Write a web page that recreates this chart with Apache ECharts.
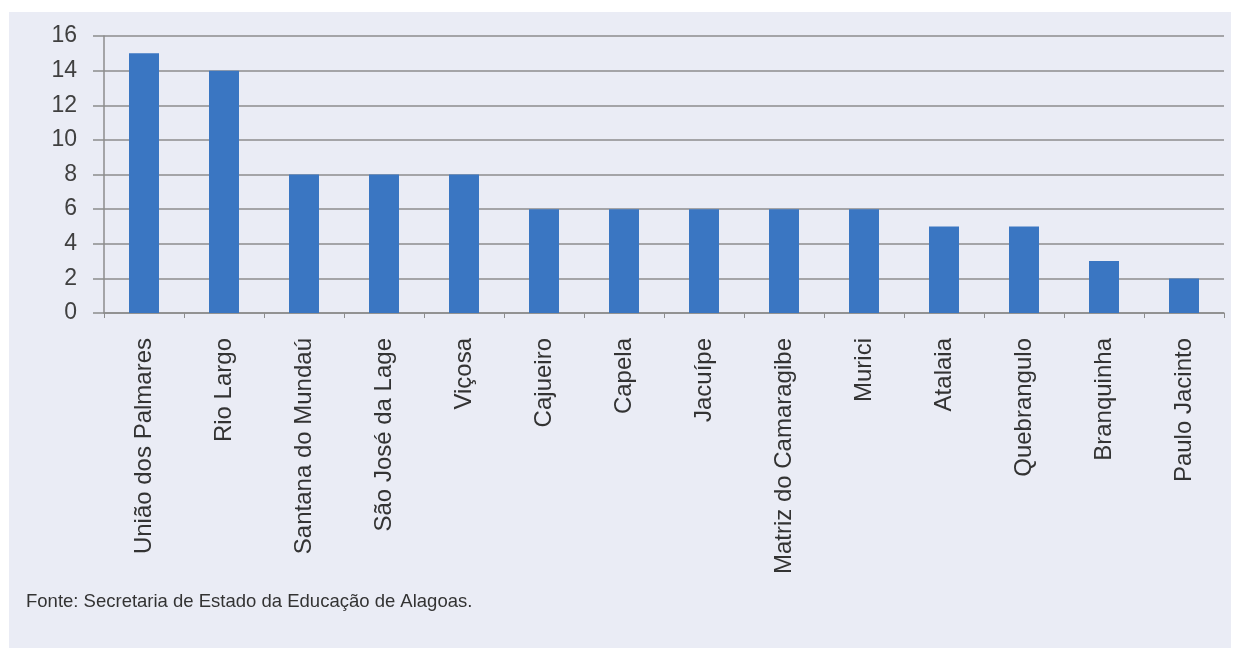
<!DOCTYPE html>
<html>
<head>
<meta charset="utf-8">
<script src="https://cdn.jsdelivr.net/npm/echarts@6/dist/echarts.min.js"></script>
<style>
  html, body { margin: 0; padding: 0; background: #ffffff; }
  #chart { width: 1239px; height: 648px; }
</style>
</head>
<body>
<div id="chart"></div>
<script>
// municípios e quantidades
const municipios = ['União dos Palmares', 'Rio Largo', 'Santana do Mundaú', 'São José da Lage', 'Viçosa',
  'Cajueiro', 'Capela', 'Jacuípe', 'Matriz do Camaragibe', 'Murici', 'Atalaia', 'Quebrangulo',
  'Branquinha', 'Paulo Jacinto'];
const quantidades = [15, 14, 8, 8, 8, 6, 6, 6, 6, 6, 5, 5, 3, 2];
const eixoY = { min: 0, max: 16, interval: 2 };
const fonte = 'Fonte: Secretaria de Estado da Educação de Alagoas.';

const myChart = echarts.init(document.getElementById('chart'));

const option = {
  backgroundColor: '#ffffff',
  animation: false,
  textStyle: { fontFamily: 'Liberation Sans, Arial, sans-serif' },
  graphic: [
    {
      type: 'rect',
      z: -10,
      shape: { x: 9, y: 12, width: 1222, height: 640 },
      style: { fill: '#eaecf5' }
    },
    {
      type: 'text',
      left: 26,
      top: 592,
      style: {
        text: fonte,
        fontSize: 18.5,
        fill: '#333333',
        fontFamily: 'Liberation Sans, Arial, sans-serif'
      }
    }
  ],
  grid: { left: 104, right: 15, top: 36, bottom: 335 },
  xAxis: {
    type: 'category',
    data: municipios,
    axisLine: { lineStyle: { color: '#8c8c8c', width: 1.5 } },
    axisTick: { show: true, length: 5, lineStyle: { color: '#8c8c8c' } },
    axisLabel: {
      rotate: 90,
      interval: 0,
      margin: 25,
      fontSize: 24,
      color: '#333333'
    }
  },
  yAxis: {
    type: 'value',
    min: eixoY.min,
    max: eixoY.max,
    interval: eixoY.interval,
    axisLine: { show: true, lineStyle: { color: '#8c8c8c', width: 1.5 } },
    axisTick: { show: true, length: 11, lineStyle: { color: '#8c8c8c', width: 1.5 } },
    axisLabel: { margin: 27, fontSize: 23, color: '#404040' },
    splitLine: { show: true, lineStyle: { color: '#8c8c8c', width: 1.5 } }
  },
  series: [
    {
      type: 'bar',
      data: quantidades,
      barWidth: 30,
      itemStyle: { color: '#3a76c2' }
    }
  ]
};

myChart.setOption(option);
window.addEventListener('resize', function () {
  myChart.resize();
});
</script>
</body>
</html>
